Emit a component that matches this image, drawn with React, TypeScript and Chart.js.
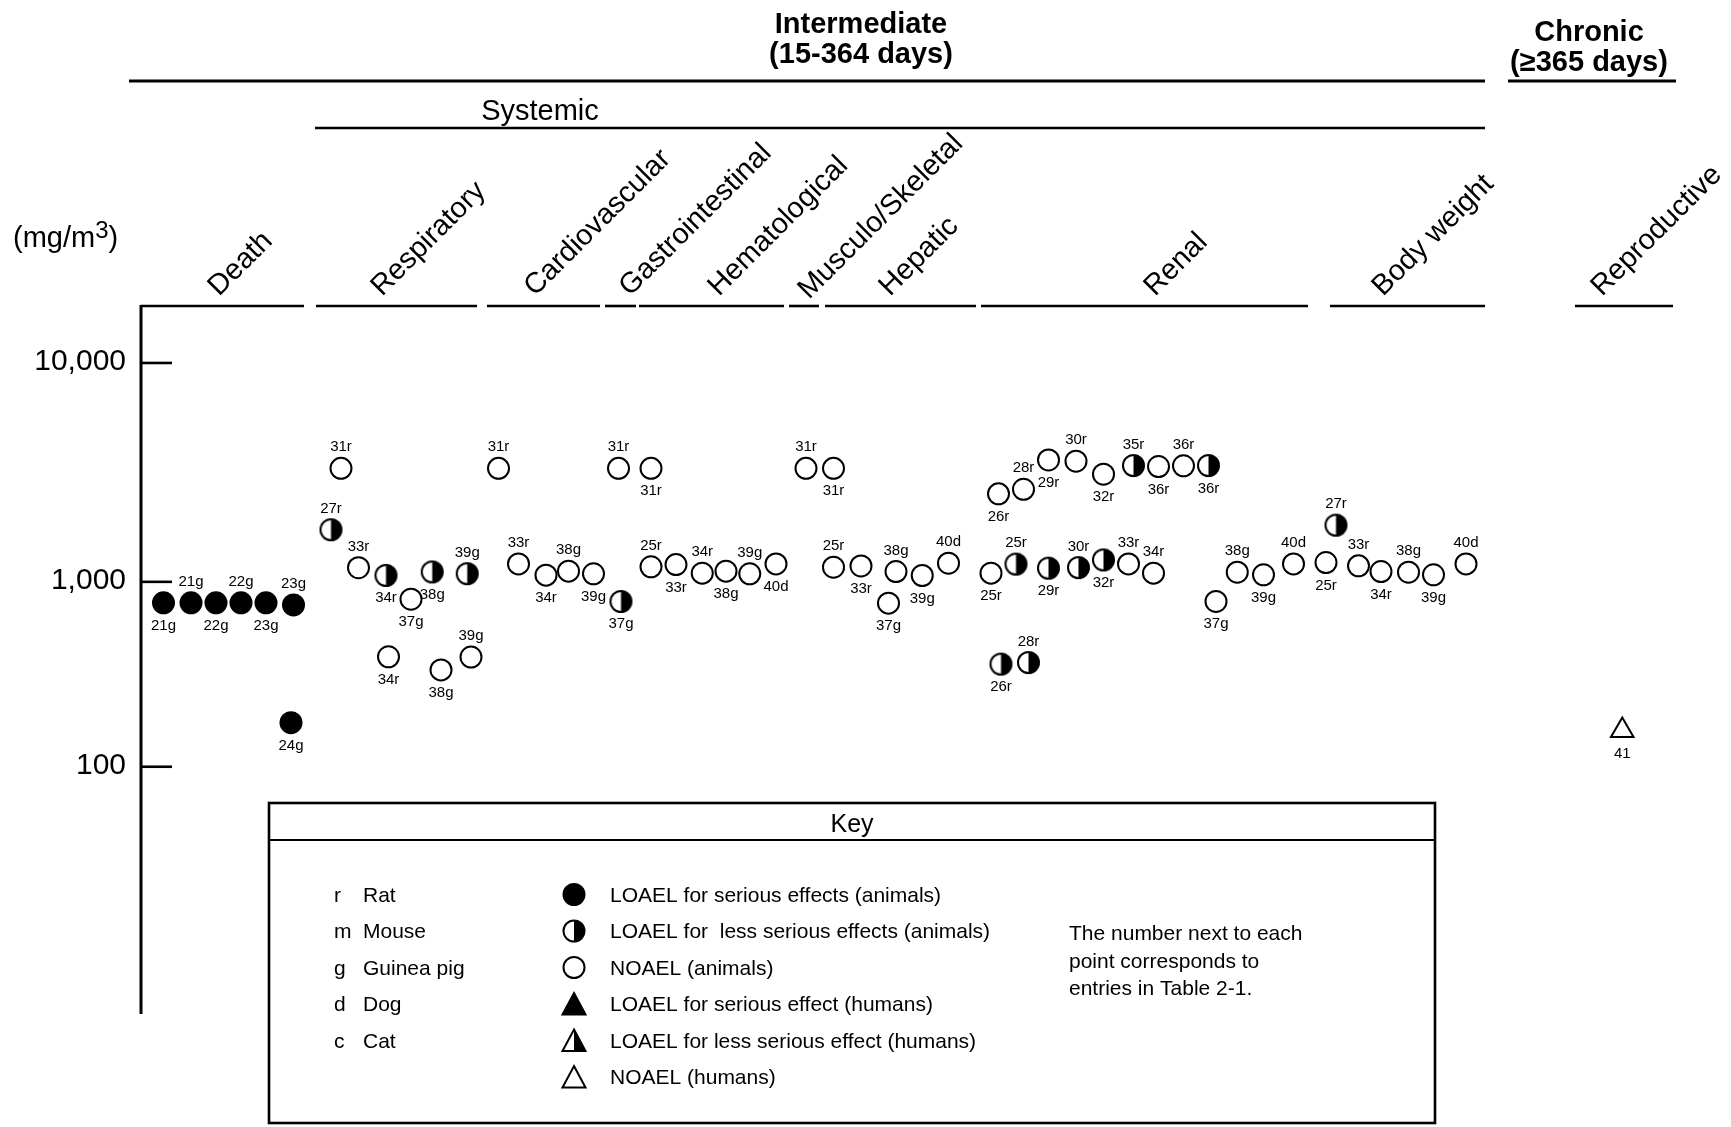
import React, { useEffect, useRef } from 'react';
import { Chart, registerables, LogarithmicScale } from 'chart.js';

const FONT = "'Liberation Sans', Arial, Helvetica, sans-serif";

// ---------------- DATA ----------------
// y tick labels (mg/m3)
const yTickValues = [100, 1000, 10000];
const yTickLabels = ['100', '1,000', '10,000'];

// Endpoint categories (x in column-slot units)
const categoryNames = ['Death', 'Respiratory', 'Cardiovascular', 'Gastrointestinal', 'Hematological', 'Musculo/Skeletal', 'Hepatic', 'Renal', 'Body weight', 'Reproductive'];
const categoryStart = [0, 7.0, 13.84, 18.56, 19.92, 25.92, 27.36, 33.6, 47.56, 57.36];
const categoryEnd = [6.52, 13.44, 18.36, 19.8, 25.72, 27.12, 33.4, 46.68, 53.76, 61.28];
const categoryLabelX = [3.12, 9.64, 15.76, 19.56, 23.12, 26.72, 29.96, 40.56, 49.68, 58.44];

const durationTitles = [['Intermediate', '(15-364 days)'], ['Chronic', '(\u2265365 days)']];
const durationStart = [-0.48, 54.68];
const durationEnd = [53.76, 61.4];
const durationTitleX = [28.8, 57.92];

const systemicTitle = 'Systemic';
const systemicStart = 6.96;
const systemicEnd = 53.76;
const systemicTitleX = 15.96;

// LOAEL for serious effects (animals)
const seriousIds = ['21g', '21g', '22g', '22g', '23g', '23g', '24g'];
const seriousX = [0.9, 2.0, 3.0, 4.0, 5.0, 6.1, 6.0];
const seriousMg = [770, 770, 770, 770, 770, 750, 173];
const seriousPos = ['b', 'a', 'b', 'a', 'b', 'a', 'b'];

// LOAEL for less serious effects (animals)
const lessIds = ['27r', '34r', '38g', '39g', '37g', '35r', '36r', '25r', '29r', '30r', '32r', '26r', '28r', '27r'];
const lessX = [7.6, 9.8, 11.65, 13.05, 19.2, 39.7, 42.7, 35.0, 36.3, 37.5, 38.5, 34.4, 35.5, 47.8];
const lessMg = [1730, 1070, 1110, 1090, 783, 3400, 3400, 1205, 1155, 1162, 1260, 359, 366, 1815];
const lessPos = ['a', 'b', 'b', 'a', 'b', 'a', 'b', 'a', 'b', 'a', 'b', 'b', 'a', 'a'];

// NOAEL (animals)
const noaelIds = [
  '31r', '33r', '37g', '34r', '38g', '39g',
  '31r', '33r', '34r', '38g', '39g',
  '31r', '31r',
  '25r', '33r', '34r', '38g', '39g', '40d',
  '31r',
  '31r', '25r', '33r', '37g', '38g', '39g', '40d',
  '25r', '26r', '28r', '29r', '30r', '32r', '36r', '36r', '33r', '34r', '37g', '38g', '39g', '40d',
  '25r', '33r', '34r', '38g', '39g', '40d',
];
const noaelX = [
  8.0, 8.7, 10.8, 9.9, 12.0, 13.2,
  14.3, 15.1, 16.2, 17.1, 18.1,
  19.1, 20.4,
  20.4, 21.4, 22.45, 23.4, 24.35, 25.4,
  26.6,
  27.7, 27.7, 28.8, 29.9, 30.2, 31.25, 32.3,
  34.0, 34.3, 35.3, 36.3, 37.4, 38.5, 40.7, 41.7, 39.5, 40.5, 43.0, 43.85, 44.9, 46.1,
  47.4, 48.7, 49.6, 50.7, 51.7, 53.0,
];
const noaelMg = [
  3300, 1160, 806, 393, 334, 392,
  3300, 1208, 1073, 1119, 1088,
  3300, 3300,
  1171, 1199, 1096, 1119, 1088, 1208,
  3300,
  3300, 1167, 1182, 767, 1114, 1069, 1217,
  1096, 2523, 2648, 3606, 3558, 3103, 3363, 3389, 1208, 1096, 783, 1107, 1077, 1208,
  1225, 1183, 1114, 1107, 1077, 1208,
];
const noaelPos = [
  'a', 'a', 'b', 'b', 'b', 'a',
  'a', 'a', 'b', 'a', 'b',
  'a', 'b',
  'a', 'b', 'a', 'b', 'a', 'b',
  'a',
  'b', 'a', 'b', 'b', 'a', 'b', 'a',
  'b', 'b', 'a', 'b', 'a', 'b', 'b', 'a', 'a', 'a', 'b', 'a', 'b', 'a',
  'b', 'a', 'b', 'a', 'b', 'a',
];

// NOAEL (humans)
const humanIds = ['41'];
const humanX = [59.25];
const humanMg = [157];
const humanPos = ['b'];

// Key
const keySpecies = [['r', 'Rat'], ['m', 'Mouse'], ['g', 'Guinea pig'], ['d', 'Dog'], ['c', 'Cat']];
const keySymbols = ['full', 'half', 'open', 'triFull', 'triHalf', 'triOpen'];
const keySymbolTexts = [
  'LOAEL for serious effects (animals)',
  'LOAEL for  less serious effects (animals)',
  'NOAEL (animals)',
  'LOAEL for serious effect (humans)',
  'LOAEL for less serious effect (humans)',
  'NOAEL (humans)',
];
const keyNote = ['The number next to each', 'point corresponds to', 'entries in Table 2-1.'];

// ---------------- Custom piecewise-log scale ----------------
class WarpedLogScale extends LogarithmicScale {
  static id = 'warpedLog';
  _warp(t: number) {
    const o: any = this.options;
    const piv = Math.log10(o.pivot || 1000);
    const lw = o.lowerDecadeWeight || 1;
    return t < piv ? (t - piv) * lw : t - piv;
  }
  getPixelForValue(value: any) {
    if (value === null || value === undefined || !(value > 0)) return NaN;
    const a = this._warp(Math.log10(this.min));
    const b = this._warp(Math.log10(this.max));
    return this.getPixelForDecimal((this._warp(Math.log10(value)) - a) / (b - a));
  }
  getValueForPixel(pixel: number) {
    const o: any = this.options;
    const piv = Math.log10(o.pivot || 1000);
    const lw = o.lowerDecadeWeight || 1;
    const a = this._warp(Math.log10(this.min));
    const b = this._warp(Math.log10(this.max));
    const w = a + this.getDecimalForPixel(pixel) * (b - a);
    return Math.pow(10, w < 0 ? piv + w / lw : piv + w);
  }
}

Chart.register(...registerables, WarpedLogScale as any);

// ---------------- drawing helpers ----------------
function hline(ctx: CanvasRenderingContext2D, x1: number, x2: number, y: number, lw: number) {
  ctx.lineWidth = lw;
  ctx.beginPath();
  ctx.moveTo(x1, y);
  ctx.lineTo(x2, y);
  ctx.stroke();
}

function makeHalfCircle(r: number, lw: number) {
  const s = Math.ceil(2 * r + lw + 2);
  const c = document.createElement('canvas');
  c.width = s;
  c.height = s;
  const g = c.getContext('2d')!;
  const m = s / 2;
  g.fillStyle = '#fff';
  g.beginPath();
  g.arc(m, m, r, 0, Math.PI * 2);
  g.fill();
  g.fillStyle = '#000';
  g.beginPath();
  g.arc(m, m, r, -Math.PI / 2, Math.PI / 2);
  g.closePath();
  g.fill();
  g.strokeStyle = '#000';
  g.lineWidth = lw;
  g.beginPath();
  g.arc(m, m, r, 0, Math.PI * 2);
  g.stroke();
  return c;
}

function drawKeySymbol(ctx: CanvasRenderingContext2D, kind: string, cx: number, cy: number) {
  ctx.save();
  ctx.strokeStyle = '#000';
  ctx.fillStyle = '#000';
  ctx.lineWidth = 2;
  if (kind === 'full' || kind === 'half' || kind === 'open') {
    const r = 10.5;
    ctx.beginPath();
    ctx.arc(cx, cy, r, 0, Math.PI * 2);
    if (kind === 'full') ctx.fill();
    if (kind === 'half') {
      ctx.save();
      ctx.beginPath();
      ctx.arc(cx, cy, r, -Math.PI / 2, Math.PI / 2);
      ctx.closePath();
      ctx.fill();
      ctx.restore();
      ctx.beginPath();
      ctx.arc(cx, cy, r, 0, Math.PI * 2);
    }
    ctx.stroke();
  } else {
    const hw = 11.5, top = cy - 11, bot = cy + 10.5;
    const path = () => {
      ctx.beginPath();
      ctx.moveTo(cx, top);
      ctx.lineTo(cx + hw, bot);
      ctx.lineTo(cx - hw, bot);
      ctx.closePath();
    };
    if (kind === 'triFull') {
      path();
      ctx.fill();
    } else if (kind === 'triHalf') {
      ctx.save();
      path();
      ctx.clip();
      ctx.fillRect(cx, top - 2, hw + 2, bot - top + 4);
      ctx.restore();
    }
    path();
    ctx.stroke();
  }
  ctx.restore();
}

const decorPlugin = {
  id: 'decor',
  beforeDraw(chart: any) {
    const { ctx, chartArea: ca } = chart;
    const xs = chart.scales.x;
    const ys = chart.scales.y;
    const px = (u: number) => xs.getPixelForValue(u);
    ctx.save();
    ctx.fillStyle = '#fff';
    ctx.fillRect(0, 0, chart.width, chart.height);
    ctx.fillStyle = '#000';
    ctx.strokeStyle = '#000';

    // duration headers
    ctx.font = `bold 29px ${FONT}`;
    ctx.textAlign = 'center';
    ctx.textBaseline = 'alphabetic';
    const titleBase = [33, 41];
    durationTitles.forEach((lines, i) => {
      const cx = px(durationTitleX[i]);
      lines.forEach((t, k) => ctx.fillText(t, cx, titleBase[i] + k * 30));
      hline(ctx, px(durationStart[i]), px(durationEnd[i]), 81, 3.2);
    });

    // systemic
    ctx.font = `29px ${FONT}`;
    ctx.fillText(systemicTitle, px(systemicTitleX), 120);
    hline(ctx, px(systemicStart), px(systemicEnd), 128, 2.4);

    // categories
    categoryNames.forEach((name, i) => {
      hline(ctx, px(categoryStart[i]), px(categoryEnd[i]), ca.top + 1, 2.6);
      ctx.save();
      const ay = name === 'Musculo/Skeletal' ? 300 : 297;
      ctx.translate(px(categoryLabelX[i]), ay);
      ctx.rotate(-45 * Math.PI / 180);
      ctx.font = `29px ${FONT}`;
      ctx.textAlign = 'left';
      ctx.fillText(name, 0, 0);
      ctx.restore();
    });

    // unit label (mg/m3)
    ctx.textAlign = 'left';
    ctx.font = `29px ${FONT}`;
    let ux = 13;
    const ub = 247;
    ctx.fillText('(mg/m', ux, ub);
    ux += ctx.measureText('(mg/m').width;
    ctx.font = `24px ${FONT}`;
    ctx.fillText('3', ux, ub - 9);
    ux += ctx.measureText('3').width;
    ctx.font = `29px ${FONT}`;
    ctx.fillText(')', ux, ub);

    // y axis
    ctx.lineWidth = 3;
    ctx.beginPath();
    ctx.moveTo(ca.left, ca.top);
    ctx.lineTo(ca.left, ca.bottom);
    ctx.stroke();
    ctx.font = `30px ${FONT}`;
    ctx.textAlign = 'right';
    yTickValues.forEach((v, i) => {
      const py = ys.getPixelForValue(v);
      hline(ctx, ca.left, ca.left + 31, py, 2.6);
      ctx.fillText(yTickLabels[i], ca.left - 15, py + 7);
    });

    // key box
    const kl = 269, kr = 1435, kt = 803, kb = 1123;
    ctx.lineWidth = 2.6;
    ctx.strokeRect(kl, kt, kr - kl, kb - kt);
    hline(ctx, kl, kr, 840, 2);
    ctx.textAlign = 'center';
    ctx.font = `25px ${FONT}`;
    ctx.fillText('Key', (kl + kr) / 2, 832);
    ctx.font = `21px ${FONT}`;
    ctx.textAlign = 'left';
    const rowY = [894.5, 931, 967.5, 1004, 1040.5, 1077];
    keySpecies.forEach(([ab, nm], i) => {
      ctx.fillText(ab, 334, rowY[i] + 7);
      ctx.fillText(nm, 363, rowY[i] + 7);
    });
    keySymbols.forEach((k, i) => {
      drawKeySymbol(ctx, k, 574, rowY[i]);
      ctx.fillText(keySymbolTexts[i], 610, rowY[i] + 7);
    });
    const noteY = [933, 961, 988];
    keyNote.forEach((t, i) => ctx.fillText(t, 1069, noteY[i] + 7));
    ctx.restore();
  },
  afterDatasetsDraw(chart: any) {
    const ctx = chart.ctx;
    ctx.save();
    ctx.fillStyle = '#000';
    ctx.font = `15px ${FONT}`;
    ctx.textAlign = 'center';
    ctx.textBaseline = 'alphabetic';
    chart.data.datasets.forEach((ds: any, i: number) => {
      const meta = chart.getDatasetMeta(i);
      meta.data.forEach((el: any, j: number) => {
        const above = ds.labelPos[j] === 'a';
        ctx.fillText(ds.ids[j], el.x, above ? el.y - 17 : el.y + 27);
      });
    });
    ctx.restore();
  },
};

function pts(xv: number[], yv: number[]) {
  return xv.map((x, i) => ({ x, y: yv[i] }));
}

export default function App() {
  const ref = useRef<HTMLCanvasElement | null>(null);
  useEffect(() => {
    document.body.style.margin = '0';
    const canvas = ref.current!;
    const half = makeHalfCircle(10.5, 2);
    const chart = new Chart(canvas, {
      type: 'scatter',
      data: {
        datasets: [
          {
            label: 'LOAEL for serious effects (animals)',
            data: pts(seriousX, seriousMg),
            pointStyle: 'circle',
            pointRadius: 11.5,
            pointBorderWidth: 0,
            pointBackgroundColor: '#000',
            pointBorderColor: '#000',
            ids: seriousIds,
            labelPos: seriousPos,
          } as any,
          {
            label: 'LOAEL for less serious effects (animals)',
            data: pts(lessX, lessMg),
            pointStyle: half as any,
            pointRadius: 11.5,
            ids: lessIds,
            labelPos: lessPos,
          } as any,
          {
            label: 'NOAEL (animals)',
            data: pts(noaelX, noaelMg),
            pointStyle: 'circle',
            pointRadius: 10.5,
            pointBorderWidth: 2,
            pointBackgroundColor: '#fff',
            pointBorderColor: '#000',
            ids: noaelIds,
            labelPos: noaelPos,
          } as any,
          {
            label: 'NOAEL (humans)',
            data: pts(humanX, humanMg),
            pointStyle: 'triangle',
            pointRadius: 13,
            pointBorderWidth: 2,
            pointBackgroundColor: '#fff',
            pointBorderColor: '#000',
            ids: humanIds,
            labelPos: humanPos,
          } as any,
        ],
      },
      options: {
        animation: false,
        responsive: false,
        events: [],
        layout: { padding: { left: 141, right: 15, top: 305, bottom: 113 } },
        plugins: { legend: { display: false }, tooltip: { enabled: false } },
        scales: {
          x: { type: 'linear', min: 0, max: 63, display: false },
          y: { type: 'warpedLog', min: 4.6, max: 18400, display: false, pivot: 1000, lowerDecadeWeight: 185 / 219 } as any,
        },
      },
      plugins: [decorPlugin as any],
    });
    return () => chart.destroy();
  }, []);
  return (
    <div style={{ width: 1731, height: 1127 }}>
      <canvas ref={ref} width={1731} height={1127} style={{ display: 'block', width: 1731, height: 1127 }} />
    </div>
  );
}
